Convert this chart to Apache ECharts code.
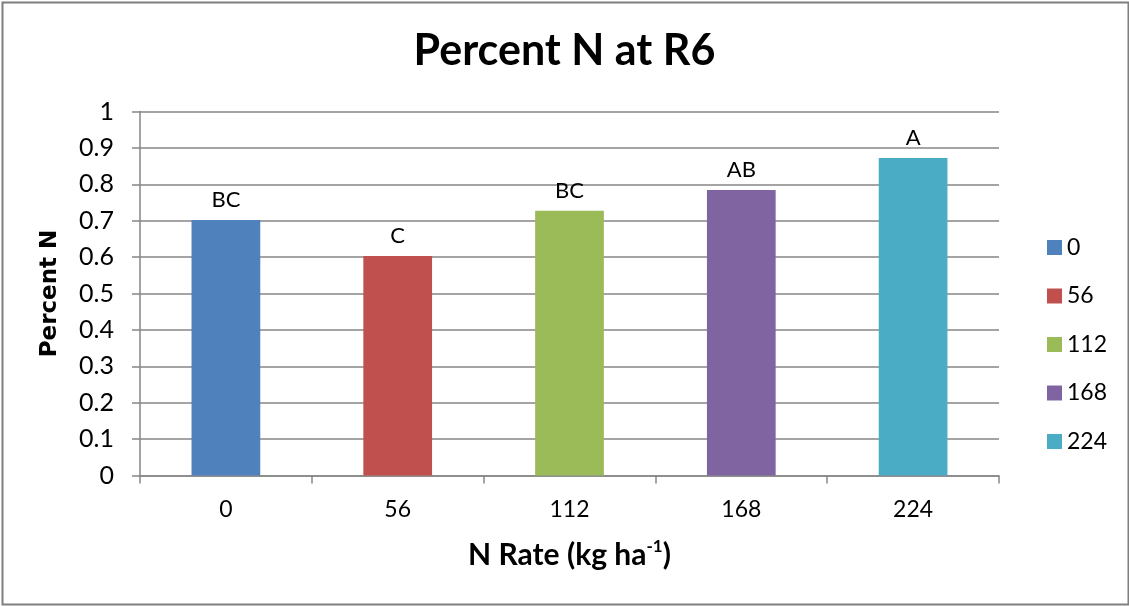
<!DOCTYPE html>
<html><head><meta charset="utf-8">
<script src="https://cdn.jsdelivr.net/npm/echarts@6/dist/echarts.min.js"></script>
<style>html,body{margin:0;padding:0;background:#fff}#c{width:1129px;height:606px}</style>
</head><body><div id="c"></div>
<script>
const categories = ['0', '56', '112', '168', '224'];
const values = [0.702, 0.603, 0.727, 0.784, 0.872];
const letters = ['BC', 'C', 'BC', 'AB', 'A'];
const colors = ['#4F81BD', '#C0504D', '#9BBB59', '#8064A2', '#4BACC6'];
const yTicks = [0, 0.1, 0.2, 0.3, 0.4, 0.5, 0.6, 0.7, 0.8, 0.9, 1];

const FONT = 'Lato';
const series = categories.map((c, i) => ({
  name: c,
  type: 'bar',
  stack: 'all',
  barWidth: '40%',
  itemStyle: { color: colors[i] },
  label: {
    show: true, position: 'top', distance: 9,
    formatter: () => letters[i],
    color: '#000', fontFamily: FONT, fontSize: 22
  },
  data: categories.map((_, j) => j === i ? values[i] : '-')
}));

const chart = echarts.init(document.getElementById('c'), null, { renderer: 'canvas' });
chart.setOption({
  animation: false,
  backgroundColor: '#fff',
  title: {
    text: 'Percent N at R6', left: 'center', top: 25,
    textStyle: { fontFamily: FONT, fontWeight: 'bold', fontSize: 43, color: '#000' }
  },
  legend: {
    orient: 'vertical', left: 1042, top: 231,
    itemWidth: 15, itemHeight: 15, itemGap: 25.5,
    icon: 'rect',
    textStyle: { fontFamily: FONT, fontSize: 23, color: '#000' },
    data: categories
  },
  grid: { left: 140, right: 130, top: 111.5, bottom: 130.5, containLabel: false },
  xAxis: {
    type: 'category', data: categories,
    axisLine: { lineStyle: { color: '#868686', width: 1.5 } },
    axisTick: { show: true, length: 8, lineStyle: { color: '#868686', width: 1.5 } },
    axisLabel: { color: '#000', fontFamily: FONT, fontSize: 23, margin: 23 },
    name: '{n|N Rate (kg ha}{s|-1}{n|)}', nameLocation: 'middle', nameGap: 63,
    nameTextStyle: {
      rich: {
        n: { fontFamily: FONT, fontWeight: 'bold', fontSize: 30, color: '#000', verticalAlign: 'bottom', lineHeight: 32 },
        s: { fontFamily: FONT, fontWeight: 'bold', fontSize: 17, color: '#000', verticalAlign: 'top', lineHeight: 32, padding: [0, 0, 12, 0] }
      }
    }
  },
  yAxis: {
    type: 'value', min: 0, max: 1, interval: 0.1,
    axisLine: { show: true, lineStyle: { color: '#868686', width: 1.5 } },
    axisTick: { show: true, length: 8, lineStyle: { color: '#868686', width: 1.5 } },
    splitLine: { show: true, lineStyle: { color: '#868686', width: 1.5 } },
    axisLabel: {
      color: '#000', fontFamily: FONT, fontSize: 25, margin: 26,
      formatter: v => {
        const t = yTicks.find(x => Math.abs(x - v) < 1e-9);
        return t === undefined ? '' : String(Math.round(t * 10) / 10);
      }
    },
    name: 'Percent N', nameLocation: 'middle', nameGap: 78, nameRotate: 90,
    nameTextStyle: { fontFamily: 'DejaVu Sans', fontWeight: 'bold', fontSize: 23, color: '#000' }
  },
  series: series,
  graphic: [{
    type: 'rect', left: 0, top: 0,
    shape: { x: 1, y: 1, width: 1126, height: 602 },
    style: { fill: 'none', stroke: '#7f7f7f', lineWidth: 2 },
    silent: true
  }]
});
</script></body></html>
